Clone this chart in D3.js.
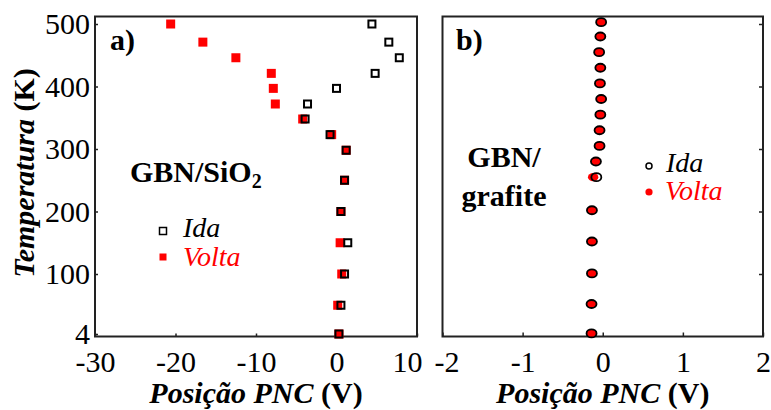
<!DOCTYPE html>
<html lang="pt">
<head>
<meta charset="UTF-8">
<title>Posição PNC vs Temperatura</title>
<script src="https://d3js.org/d3.v7.min.js"></script>
<style>
  body { margin: 0; background: #fff; }
  svg text { font-family: "Liberation Serif", "Times New Roman", serif; }
</style>
</head>
<body>
<div id="chart"></div>
<script>
// panel a) GBN/SiO2 - temperaturas e posicao do PNC
var tempA  = [500, 471, 446, 421, 397, 372, 348, 323, 298, 250, 200, 150, 100, 50, 4];
var idaA   = [4.4, 6.5, 7.8, 4.8, 0.0, -3.6, -3.9, -0.8, 1.2, 1.0, 0.55, 1.4, 1.0, 0.55, 0.3];
var voltaA = [-20.6, -16.6, -12.5, -8.1, -7.85, -7.6, -4.2, -0.6, 1.2, 1.0, 0.55, 0.45, 0.65, 0.15, 0.3];

// panel b) GBN/grafite
var tempB  = [503, 480, 455, 430, 405, 380, 355, 330, 305, 280, 255, 202, 152, 101, 52, 5];
var idaB   = [-0.02, -0.03, -0.045, -0.03, -0.035, -0.02, -0.03, -0.04, -0.04, -0.085, -0.08, -0.135, -0.135, -0.135, -0.14, -0.14];
var voltaB = [-0.02, -0.03, -0.045, -0.03, -0.035, -0.02, -0.03, -0.04, -0.04, -0.085, -0.12, -0.135, -0.135, -0.135, -0.14, -0.14];

// ticks
var yTicksA = [4, 100, 200, 300, 400, 500];
var yTicksB = [100, 200, 300, 400, 500];
var xTicksA = [-30, -20, -10, 0, 10];
var xTicksB = [-2, -1, 0, 1, 2];

var width = 771, height = 410;

var svg = d3.select("#chart").append("svg")
  .attr("width", width)
  .attr("height", height);

var y = d3.scaleLinear().domain([0, 512]).range([336.5, 16.5]);
var xA = d3.scaleLinear().domain([-30, 10]).range([95, 417]);
var xB = d3.scaleLinear().domain([-2, 2]).range([442.5, 763]);

// plain hyphen for negatives, like the original
var fmt = function(d) { return String(d); };

// ---- axes panel a
var gxA = svg.append("g")
  .attr("transform", "translate(0," + y.range()[0] + ")")
  .call(d3.axisBottom(xA).tickValues(xTicksA).tickSize(-3).tickPadding(14).tickFormat(fmt));
gxA.selectAll("text").filter(function(d) { return d == 10; }).attr("dx", -10);

var gyA = svg.append("g")
  .attr("transform", "translate(" + xA.range()[0] + ",0)")
  .call(d3.axisLeft(y).tickValues(yTicksA).tickSize(-3).tickPadding(5));

// ---- axes panel b
var gxB = svg.append("g")
  .attr("transform", "translate(0," + y.range()[0] + ")")
  .call(d3.axisBottom(xB).tickValues(xTicksB).tickSize(-4).tickPadding(14).tickFormat(fmt));
gxB.selectAll("text").filter(function(d) { return d == -2; }).attr("dx", 4);

var gyB = svg.append("g")
  .attr("transform", "translate(" + xB.range()[1] + ",0)")
  .call(d3.axisRight(y).tickValues(yTicksB).tickSize(-4).tickFormat(""));

[gxA, gyA, gxB, gyB].forEach(function(g) {
  g.select(".domain").remove();
  g.selectAll(".tick line").attr("stroke", "#222").attr("stroke-width", 1.5);
  g.selectAll("text")
    .attr("fill", "#000")
    .style("font-size", "30px");
});
gxA.selectAll("text").attr("dy", "0.71em");
gxB.selectAll("text").attr("dy", "0.71em");

// frames
[xA, xB].forEach(function(x) {
  svg.append("rect")
    .attr("x", x.range()[0])
    .attr("y", y.range()[1])
    .attr("width", x.range()[1] - x.range()[0])
    .attr("height", y.range()[0] - y.range()[1])
    .attr("fill", "none")
    .attr("stroke", "#222")
    .attr("stroke-width", 2);
});

// ---- data panel a: squares
svg.append("g").selectAll("rect")
  .data(tempA)
  .enter().append("rect")
    .attr("x", function(d, i) { return xA(voltaA[i]) - 4.5; })
    .attr("y", function(d) { return y(d) - 4.5; })
    .attr("width", 9)
    .attr("height", 9)
    .attr("fill", "#ff0000");

svg.append("g").selectAll("rect")
  .data(tempA)
  .enter().append("rect")
    .attr("x", function(d, i) { return xA(idaA[i]) - 3.5; })
    .attr("y", function(d) { return y(d) - 3.5; })
    .attr("width", 7)
    .attr("height", 7)
    .attr("fill", "none")
    .attr("stroke", "#000")
    .attr("stroke-width", 2);

// ---- data panel b: circles
svg.append("g").selectAll("ellipse")
  .data(tempB)
  .enter().append("ellipse")
    .attr("cx", function(d, i) { return xB(voltaB[i]); })
    .attr("cy", function(d) { return y(d); })
    .attr("rx", 5.2)
    .attr("ry", 4.2)
    .attr("fill", "#ff0000");

svg.append("g").selectAll("ellipse")
  .data(tempB)
  .enter().append("ellipse")
    .attr("cx", function(d, i) { return xB(idaB[i]); })
    .attr("cy", function(d) { return y(d); })
    .attr("rx", 5)
    .attr("ry", 4)
    .attr("fill", "none")
    .attr("stroke", "#000")
    .attr("stroke-width", 1.8);

// ---- labels
svg.append("text").attr("x", 110).attr("y", 50)
  .style("font-size", "30px").style("font-weight", "bold").text("a)");
svg.append("text").attr("x", 456).attr("y", 50)
  .style("font-size", "30px").style("font-weight", "bold").text("b)");

var lblA = svg.append("text").attr("x", 130).attr("y", 182)
  .style("font-size", "30px").style("font-weight", "bold");
lblA.append("tspan").text("GBN/SiO");
lblA.append("tspan").attr("dy", 6).style("font-size", "20px").text("2");

svg.append("text").attr("x", 504).attr("y", 167).attr("text-anchor", "middle")
  .style("font-size", "30px").style("font-weight", "bold").text("GBN/");
svg.append("text").attr("x", 504).attr("y", 206).attr("text-anchor", "middle")
  .style("font-size", "30px").style("font-weight", "bold").text("grafite");

// legend a
svg.append("rect").attr("x", 159.5).attr("y", 227.5).attr("width", 7).attr("height", 7)
  .attr("fill", "none").attr("stroke", "#000").attr("stroke-width", 1.5);
svg.append("rect").attr("x", 159.5).attr("y", 253.5).attr("width", 7).attr("height", 7)
  .attr("fill", "#ff0000");
svg.append("text").attr("x", 183).attr("y", 237)
  .style("font-size", "28px").style("font-style", "italic").text("Ida");
svg.append("text").attr("x", 183).attr("y", 266).attr("fill", "#ff0000")
  .style("font-size", "28px").style("font-style", "italic").text("Volta");

// legend b
svg.append("circle").attr("cx", 649).attr("cy", 166).attr("r", 3)
  .attr("fill", "none").attr("stroke", "#000").attr("stroke-width", 1.5);
svg.append("circle").attr("cx", 649).attr("cy", 192).attr("r", 3.6)
  .attr("fill", "#ff0000");
svg.append("text").attr("x", 666).attr("y", 172)
  .style("font-size", "28px").style("font-style", "italic").text("Ida");
svg.append("text").attr("x", 665).attr("y", 200).attr("fill", "#ff0000")
  .style("font-size", "28px").style("font-style", "italic").text("Volta");

// axis titles
[xA, xB].forEach(function(x) {
  var t = svg.append("text")
    .attr("x", (x.range()[0] + x.range()[1]) / 2)
    .attr("y", 403)
    .attr("text-anchor", "middle")
    .style("font-size", "30px")
    .style("font-weight", "bold");
  t.append("tspan").style("font-style", "italic").text("Posição PNC ");
  t.append("tspan").text("(V)");
});

var ty = svg.append("text")
  .attr("transform", "translate(34,173) rotate(-90)")
  .attr("text-anchor", "middle")
  .style("font-size", "30px")
  .style("font-weight", "bold");
ty.append("tspan").style("font-style", "italic").text("Temperatura ");
ty.append("tspan").text("(K)");
</script>
</body>
</html>
